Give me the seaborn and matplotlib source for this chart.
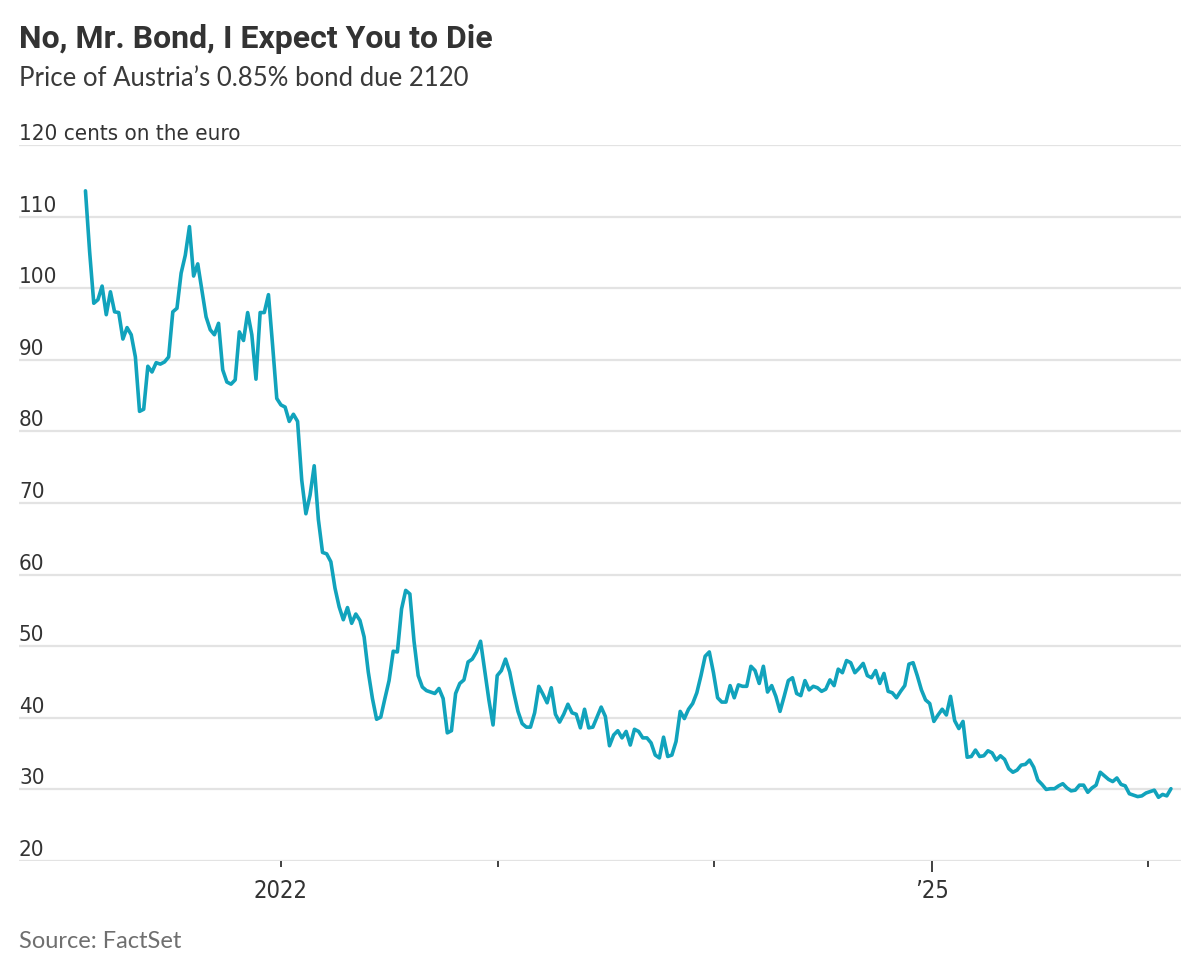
import matplotlib
matplotlib.use("Agg")
import matplotlib.pyplot as plt
import numpy as np
import pandas as pd
import seaborn as sns

# ── Data (weekly prices, cents on the euro) ──────────────────────────

START_DATE = "2021-02-06"
END_DATE = "2026-02-08"

PRICES = [
    # Feb 2021 - Jan 2022
    113.6, 105.1, 97.9, 98.4, 100.3, 96.3, 99.5, 96.7, 96.6, 92.9,
    94.5, 93.5, 90.4, 82.8, 83.1, 89.1, 88.3, 89.6, 89.4, 89.7,
    90.4, 96.7, 97.2, 102.1, 104.6, 108.6, 101.7, 103.4, 99.7, 96.0,
    94.2, 93.5, 95.1, 88.6, 86.9, 86.6, 87.2, 93.9, 92.7, 96.6,
    93.5, 87.3, 96.6, 96.6, 99.1, 92.0, 84.6, 83.7, 83.4, 81.4,
    82.4, 81.4,
    # 2022
    73.2, 68.5, 71.1, 75.2, 67.7, 63.1, 62.9, 61.8, 58.1, 55.5,
    53.7, 55.4, 53.2, 54.5, 53.6, 51.3, 46.4, 42.7, 39.8, 40.1,
    42.7, 45.2, 49.3, 49.2, 55.2, 57.8, 57.3, 50.7, 45.9, 44.3,
    43.8, 43.6, 43.4, 44.1, 42.7, 37.9, 38.2, 43.4, 44.8, 45.3,
    47.8, 48.2, 49.2, 50.7, 46.6, 42.5, 39.0, 45.9, 46.6, 48.2,
    46.4,
    # 2023
    43.5, 40.9, 39.2, 38.7, 38.7, 40.7, 44.4, 43.3, 42.1, 44.2,
    40.5, 39.4, 40.5, 41.9, 40.7, 40.5, 38.6, 41.2, 38.6, 38.7,
    40.1, 41.5, 40.2, 36.1, 37.6, 38.2, 37.2, 38.1, 36.2, 38.4,
    38.1, 37.2, 37.2, 36.5, 34.8, 34.4, 37.3, 34.6, 34.8, 36.7,
    40.9, 39.9, 41.2, 42.0, 43.5, 45.9, 48.6, 49.2, 46.3, 42.8,
    42.2, 42.2, 44.5, 42.8, 44.6,
    # 2024
    44.4, 44.4, 47.2, 46.6, 44.8, 47.2, 43.6, 44.5, 43.0, 40.9,
    43.0, 45.2, 45.6, 43.4, 43.1, 45.2, 43.9, 44.4, 44.2, 43.7,
    44.0, 45.3, 44.5, 46.8, 46.3, 48.0, 47.7, 46.3, 46.9, 47.6,
    45.9, 45.6, 46.6, 44.8, 46.2, 43.7, 43.5, 42.8, 43.7, 44.5,
    47.5, 47.7, 45.9, 43.9, 42.5, 42.0, 39.5, 40.4, 41.2, 40.4,
    43.0, 39.6,
    # 2025 - Feb 2026
    38.5, 39.5, 34.5, 34.6, 35.5, 34.6, 34.7, 35.4, 35.1, 34.1,
    34.7, 34.2, 32.9, 32.4, 32.7, 33.4, 33.5, 34.1, 33.1, 31.3,
    30.7, 30.0, 30.1, 30.1, 30.5, 30.8, 30.2, 29.8, 29.9, 30.6,
    30.6, 29.6, 30.2, 30.6, 32.4, 31.9, 31.4, 31.1, 31.6, 30.7,
    30.5, 29.4, 29.2, 29.0, 29.1, 29.5, 29.7, 29.9, 28.9, 29.3,
    29.1, 30.1,
]

Y_TICKS = [20, 30, 40, 50, 60, 70, 80, 90, 100, 110, 120]
X_TICK_YEARS = [2022, 2023, 2024, 2025, 2026]
X_TICK_LABELS = ["2022", "", "", "\u201925", ""]

TITLE = "No, Mr. Bond, I Expect You to Die"
SUBTITLE = "Price of Austria\u2019s 0.85% bond due 2120"
UNIT_LABEL = "cents on the euro"
SOURCE = "Source: FactSet"

LINE_COLOR = "#11a3bc"
GRID_COLOR = "#e3e3e3"
TEXT_COLOR = "#333333"

NARROW = ["DejaVu Sans"]

# ── Theme ────────────────────────────────────────────────────────────

sns.set_theme(style="white")
plt.rcParams["font.family"] = ["Roboto", "DejaVu Sans"]

df = pd.DataFrame({
    "date": pd.date_range(START_DATE, END_DATE, periods=len(PRICES)),
    "price": PRICES,
})

fig = plt.figure(figsize=(12, 9.68), dpi=100)
ax = fig.add_axes([0.0158, 0.1105, 0.9684, 0.7397])

sns.lineplot(data=df, x="date", y="price", ax=ax, color=LINE_COLOR,
             linewidth=2.6, zorder=5)

# ── Axes styling ─────────────────────────────────────────────────────

ax.set_ylim(20, 120)
ax.set_xlim(pd.Timestamp("2020-10-17"), pd.Timestamp("2026-02-25"))
for side in ["top", "right", "left", "bottom"]:
    ax.spines[side].set_visible(False)

ax.set_yticks(Y_TICKS)
ax.set_yticklabels([])
ax.tick_params(axis="y", length=0)
for v in Y_TICKS:
    ax.axhline(v, color=GRID_COLOR, linewidth=1.6, zorder=1)
    label = f"{v} {UNIT_LABEL}" if v == Y_TICKS[-1] else str(v)
    ax.text(0, v + 0.7, label, transform=ax.get_yaxis_transform(),
            ha="left", va="baseline", fontsize=16, color=TEXT_COLOR,
            family=NARROW, fontstretch="condensed")

ax.set_xticks([pd.Timestamp(f"{y}-01-01") for y in X_TICK_YEARS])
ax.set_xticklabels(X_TICK_LABELS, family=NARROW, fontstretch="condensed",
                   fontsize=17, color=TEXT_COLOR)
ax.tick_params(axis="x", length=4, width=1.3, color=TEXT_COLOR,
               direction="out", pad=9, bottom=True)
ax.xaxis.get_major_ticks()[3].tick1line.set_markersize(8)
ax.set_xlabel("")
ax.set_ylabel("")

# ── Titles and source ───────────────────────────────────────────────

fig.text(0.0158, 0.9504, TITLE, fontsize=23, fontweight="bold",
         color=TEXT_COLOR, va="baseline", ha="left",
         family=["Roboto", "DejaVu Sans"])
fig.text(0.0158, 0.9112, SUBTITLE, fontsize=18.5,
         color="#3a3a3a", va="baseline", ha="left",
         family=["Lato", "DejaVu Sans"])
fig.text(0.0158, 0.0207, SOURCE, fontsize=17, color="#6f6f6f",
         va="baseline", ha="left", family=["Lato", "DejaVu Sans"])

fig.savefig("out.png", dpi=100)
plt.close(fig)
